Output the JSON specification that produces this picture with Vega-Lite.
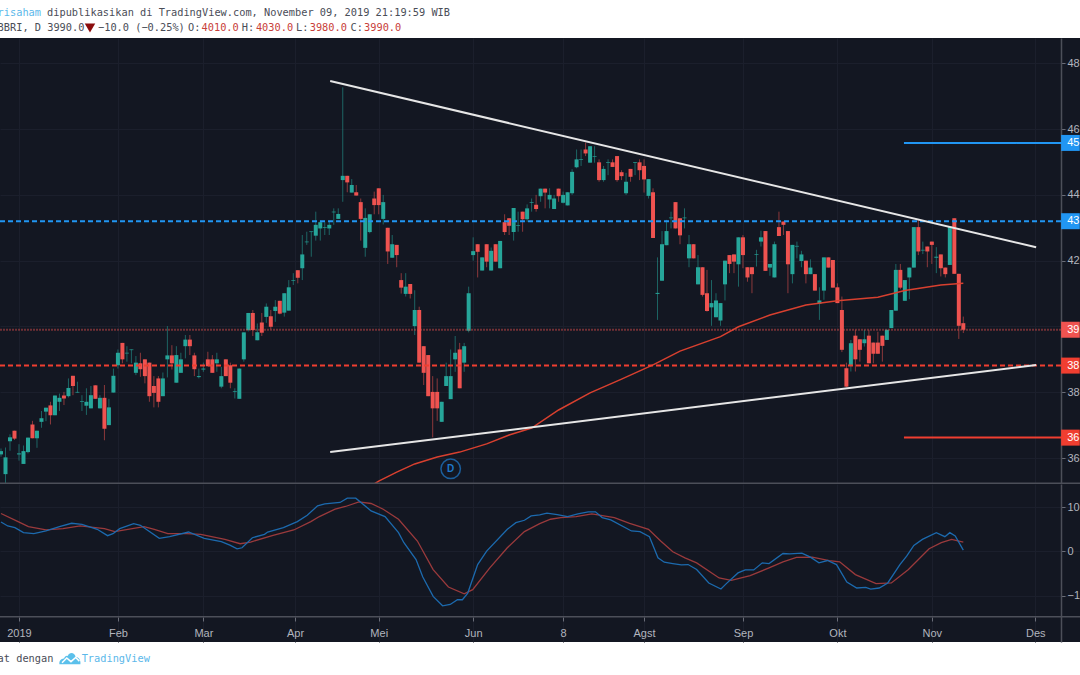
{"$schema":"https://vega.github.io/schema/vega-lite/v6.json","background":"#ffffff","padding":{"left":-2,"top":0,"right":0,"bottom":0},"spacing":0,"bounds":"flush",
"config":{"view":{"stroke":null},"concat":{"spacing":0},"font":"Liberation Sans"},
"datasets":{
"candles":[
{"i":0,"o":3611,"h":3629,"l":3604,"c":3621},{"i":1,"o":3551,"h":3632,"l":3523,"c":3602},{"i":2,"o":3651,"h":3672,"l":3622,"c":3663},{"i":3,"o":3683,"h":3683,"l":3655,"c":3659},{"i":4,"o":3611,"h":3642,"l":3592,"c":3614},{"i":5,"o":3582,"h":3638,"l":3582,"c":3621},{"i":6,"o":3618,"h":3662,"l":3614,"c":3662},{"i":7,"o":3702,"h":3713,"l":3660,"c":3660},{"i":8,"o":3660,"h":3683,"l":3631,"c":3683},{"i":9,"o":3710,"h":3743,"l":3692,"c":3721},
{"i":10,"o":3741,"h":3753,"l":3712,"c":3753},{"i":11,"o":3760,"h":3771,"l":3702,"c":3730},{"i":12,"o":3730,"h":3790,"l":3730,"c":3790},{"i":13,"o":3771,"h":3796,"l":3743,"c":3783},{"i":14,"o":3790,"h":3801,"l":3761,"c":3781},{"i":15,"o":3788,"h":3842,"l":3784,"c":3813},{"i":16,"o":3850,"h":3850,"l":3791,"c":3819},{"i":17,"o":3799,"h":3832,"l":3799,"c":3801},{"i":18,"o":3771,"h":3791,"l":3743,"c":3773},{"i":19,"o":3759,"h":3812,"l":3731,"c":3771},
{"i":20,"o":3751,"h":3819,"l":3751,"c":3791},{"i":21,"o":3821,"h":3821,"l":3780,"c":3780},{"i":22,"o":3751,"h":3791,"l":3751,"c":3783},{"i":23,"o":3783,"h":3822,"l":3654,"c":3689},{"i":24,"o":3700,"h":3780,"l":3700,"c":3754},{"i":25,"o":3799,"h":3872,"l":3799,"c":3850},{"i":26,"o":3882,"h":3930,"l":3872,"c":3920},{"i":27,"o":3950,"h":3950,"l":3888,"c":3900},{"i":28,"o":3918,"h":3940,"l":3893,"c":3920},{"i":29,"o":3928,"h":3930,"l":3888,"c":3930},
{"i":30,"o":3859,"h":3910,"l":3852,"c":3890},{"i":31,"o":3888,"h":3920,"l":3847,"c":3870},{"i":32,"o":3900,"h":3900,"l":3827,"c":3849},{"i":33,"o":3890,"h":3890,"l":3771,"c":3788},{"i":34,"o":3819,"h":3849,"l":3754,"c":3798},{"i":35,"o":3842,"h":3849,"l":3754,"c":3771},{"i":36,"o":3788,"h":3860,"l":3788,"c":3842},{"i":37,"o":3900,"h":4001,"l":3845,"c":3912},{"i":38,"o":3912,"h":3943,"l":3869,"c":3888},{"i":39,"o":3829,"h":3940,"l":3829,"c":3913},
{"i":40,"o":3859,"h":3920,"l":3859,"c":3900},{"i":41,"o":3940,"h":3974,"l":3903,"c":3960},{"i":42,"o":3960,"h":3974,"l":3913,"c":3940},{"i":43,"o":3912,"h":3920,"l":3849,"c":3870},{"i":44,"o":3846,"h":3872,"l":3842,"c":3849},{"i":45,"o":3869,"h":3890,"l":3862,"c":3872},{"i":46,"o":3900,"h":3923,"l":3879,"c":3879},{"i":47,"o":3900,"h":3913,"l":3859,"c":3859},{"i":48,"o":3888,"h":3920,"l":3862,"c":3900},{"i":49,"o":3817,"h":3877,"l":3812,"c":3849},
{"i":50,"o":3900,"h":3900,"l":3849,"c":3849},{"i":51,"o":3882,"h":3890,"l":3812,"c":3829},{"i":52,"o":3801,"h":3812,"l":3781,"c":3803},{"i":53,"o":3780,"h":3872,"l":3780,"c":3872},{"i":54,"o":3900,"h":3982,"l":3893,"c":3982},{"i":55,"o":3989,"h":4041,"l":3985,"c":4041},{"i":56,"o":4041,"h":4050,"l":3971,"c":3989},{"i":57,"o":3958,"h":4009,"l":3958,"c":3982},{"i":58,"o":4012,"h":4041,"l":3971,"c":3981},{"i":59,"o":4029,"h":4070,"l":4011,"c":4060},
{"i":60,"o":4031,"h":4050,"l":3991,"c":3999},{"i":61,"o":4047,"h":4080,"l":4014,"c":4060},{"i":62,"o":4078,"h":4078,"l":4037,"c":4039},{"i":63,"o":4042,"h":4101,"l":4030,"c":4101},{"i":64,"o":4048,"h":4141,"l":4048,"c":4119},{"i":65,"o":4139,"h":4162,"l":4126,"c":4141},{"i":66,"o":4171,"h":4171,"l":4131,"c":4148},{"i":67,"o":4177,"h":4278,"l":4141,"c":4219},{"i":68,"o":4256,"h":4288,"l":4248,"c":4258},{"i":69,"o":4287,"h":4289,"l":4212,"c":4289},
{"i":70,"o":4276,"h":4349,"l":4261,"c":4309},{"i":71,"o":4298,"h":4322,"l":4261,"c":4317},{"i":72,"o":4300,"h":4317,"l":4278,"c":4302},{"i":73,"o":4298,"h":4319,"l":4278,"c":4309},{"i":74,"o":4347,"h":4359,"l":4309,"c":4349},{"i":75,"o":4327,"h":4359,"l":4327,"c":4342},{"i":76,"o":4445,"h":4727,"l":4379,"c":4458},{"i":77,"o":4458,"h":4458,"l":4408,"c":4438},{"i":78,"o":4407,"h":4448,"l":4407,"c":4430},{"i":79,"o":4408,"h":4430,"l":4398,"c":4398},
{"i":80,"o":4378,"h":4389,"l":4261,"c":4327},{"i":81,"o":4239,"h":4359,"l":4212,"c":4330},{"i":82,"o":4287,"h":4341,"l":4283,"c":4341},{"i":83,"o":4389,"h":4410,"l":4341,"c":4369},{"i":84,"o":4420,"h":4420,"l":4341,"c":4369},{"i":85,"o":4327,"h":4400,"l":4310,"c":4378},{"i":86,"o":4300,"h":4300,"l":4190,"c":4228},{"i":87,"o":4209,"h":4278,"l":4209,"c":4250},{"i":88,"o":4248,"h":4248,"l":4180,"c":4217},{"i":89,"o":4141,"h":4162,"l":4100,"c":4118},
{"i":90,"o":4099,"h":4162,"l":4091,"c":4121},{"i":91,"o":4129,"h":4129,"l":4085,"c":4099},{"i":92,"o":4001,"h":4110,"l":3974,"c":4050},{"i":93,"o":4050,"h":4060,"l":3890,"c":3890},{"i":94,"o":3940,"h":3940,"l":3822,"c":3859},{"i":95,"o":3913,"h":3913,"l":3788,"c":3788},{"i":96,"o":3801,"h":3849,"l":3663,"c":3751},{"i":97,"o":3801,"h":3842,"l":3713,"c":3751},{"i":98,"o":3710,"h":3771,"l":3710,"c":3771},{"i":99,"o":3819,"h":3890,"l":3819,"c":3849},
{"i":100,"o":3779,"h":3930,"l":3779,"c":3849},{"i":101,"o":3900,"h":3971,"l":3862,"c":3920},{"i":102,"o":3930,"h":3950,"l":3812,"c":3812},{"i":103,"o":3890,"h":3950,"l":3862,"c":3940},{"i":104,"o":3987,"h":4121,"l":3982,"c":4101},{"i":105,"o":4217,"h":4271,"l":4200,"c":4229},{"i":106,"o":4250,"h":4250,"l":4149,"c":4227},{"i":107,"o":4170,"h":4210,"l":4170,"c":4210},{"i":108,"o":4250,"h":4250,"l":4180,"c":4197},{"i":109,"o":4170,"h":4240,"l":4170,"c":4230},
{"i":110,"o":4250,"h":4250,"l":4197,"c":4197},{"i":111,"o":4177,"h":4260,"l":4177,"c":4260},{"i":112,"o":4317,"h":4341,"l":4278,"c":4287},{"i":113,"o":4329,"h":4329,"l":4278,"c":4306},{"i":114,"o":4287,"h":4360,"l":4261,"c":4360},{"i":115,"o":4306,"h":4349,"l":4288,"c":4308},{"i":116,"o":4349,"h":4349,"l":4288,"c":4326},{"i":117,"o":4326,"h":4371,"l":4318,"c":4359},{"i":118,"o":4376,"h":4389,"l":4349,"c":4378},{"i":119,"o":4370,"h":4400,"l":4349,"c":4357},
{"i":120,"o":4396,"h":4419,"l":4379,"c":4419},{"i":121,"o":4419,"h":4419,"l":4359,"c":4407},{"i":122,"o":4386,"h":4420,"l":4359,"c":4400},{"i":123,"o":4357,"h":4400,"l":4357,"c":4389},{"i":124,"o":4419,"h":4419,"l":4379,"c":4396},{"i":125,"o":4376,"h":4410,"l":4374,"c":4400},{"i":126,"o":4368,"h":4408,"l":4368,"c":4408},{"i":127,"o":4405,"h":4478,"l":4400,"c":4470},{"i":128,"o":4484,"h":4538,"l":4481,"c":4508},{"i":129,"o":4506,"h":4538,"l":4488,"c":4508},
{"i":130,"o":4538,"h":4559,"l":4518,"c":4526},{"i":131,"o":4498,"h":4548,"l":4498,"c":4548},{"i":132,"o":4516,"h":4548,"l":4498,"c":4518},{"i":133,"o":4499,"h":4508,"l":4440,"c":4445},{"i":134,"o":4445,"h":4488,"l":4440,"c":4479},{"i":135,"o":4498,"h":4508,"l":4460,"c":4500},{"i":136,"o":4499,"h":4508,"l":4485,"c":4485},{"i":137,"o":4518,"h":4518,"l":4440,"c":4445},{"i":138,"o":4469,"h":4475,"l":4445,"c":4457},{"i":139,"o":4405,"h":4467,"l":4400,"c":4440},
{"i":140,"o":4479,"h":4479,"l":4440,"c":4455},{"i":141,"o":4498,"h":4500,"l":4460,"c":4500},{"i":142,"o":4499,"h":4508,"l":4445,"c":4475},{"i":143,"o":4488,"h":4508,"l":4407,"c":4447},{"i":144,"o":4397,"h":4448,"l":4389,"c":4448},{"i":145,"o":4408,"h":4420,"l":4269,"c":4269},{"i":146,"o":4099,"h":4210,"l":4020,"c":4102},{"i":147,"o":4139,"h":4290,"l":4139,"c":4250},{"i":148,"o":4247,"h":4324,"l":4247,"c":4290},{"i":149,"o":4329,"h":4349,"l":4298,"c":4331},
{"i":150,"o":4378,"h":4378,"l":4298,"c":4298},{"i":151,"o":4329,"h":4329,"l":4250,"c":4277},{"i":152,"o":4329,"h":4359,"l":4298,"c":4331},{"i":153,"o":4207,"h":4278,"l":4180,"c":4250},{"i":154,"o":4250,"h":4250,"l":4207,"c":4207},{"i":155,"o":4128,"h":4217,"l":4128,"c":4180},{"i":156,"o":4180,"h":4180,"l":4091,"c":4096},{"i":157,"o":4101,"h":4172,"l":4045,"c":4047},{"i":158,"o":4058,"h":4141,"l":4002,"c":4071},{"i":159,"o":4028,"h":4101,"l":4028,"c":4079},
{"i":160,"o":4018,"h":4071,"l":4002,"c":4071},{"i":161,"o":4128,"h":4200,"l":4079,"c":4200},{"i":162,"o":4217,"h":4217,"l":4162,"c":4190},{"i":163,"o":4219,"h":4219,"l":4162,"c":4197},{"i":164,"o":4189,"h":4271,"l":4121,"c":4271},{"i":165,"o":4271,"h":4278,"l":4177,"c":4217},{"i":166,"o":4180,"h":4180,"l":4136,"c":4149},{"i":167,"o":4180,"h":4180,"l":4101,"c":4159},{"i":168,"o":4218,"h":4233,"l":4182,"c":4220},{"i":169,"o":4258,"h":4291,"l":4243,"c":4271},
{"i":170,"o":4290,"h":4290,"l":4169,"c":4169},{"i":171,"o":4179,"h":4190,"l":4154,"c":4190},{"i":172,"o":4149,"h":4258,"l":4149,"c":4250},{"i":173,"o":4302,"h":4349,"l":4275,"c":4275},{"i":174,"o":4319,"h":4319,"l":4278,"c":4309},{"i":175,"o":4290,"h":4290,"l":4101,"c":4189},{"i":176,"o":4159,"h":4248,"l":4131,"c":4248},{"i":177,"o":4243,"h":4258,"l":4207,"c":4245},{"i":178,"o":4199,"h":4230,"l":4180,"c":4219},{"i":179,"o":4200,"h":4200,"l":4131,"c":4159},
{"i":180,"o":4159,"h":4204,"l":4159,"c":4179},{"i":181,"o":4159,"h":4159,"l":4109,"c":4109},{"i":182,"o":4069,"h":4119,"l":4020,"c":4079},{"i":183,"o":4109,"h":4210,"l":4081,"c":4210},{"i":184,"o":4210,"h":4210,"l":4179,"c":4179},{"i":185,"o":4202,"h":4202,"l":4118,"c":4118},{"i":186,"o":4119,"h":4131,"l":4071,"c":4071},{"i":187,"o":4050,"h":4091,"l":3922,"c":3929},{"i":188,"o":3873,"h":3890,"l":3815,"c":3817},{"i":189,"o":3883,"h":3959,"l":3863,"c":3949},
{"i":190,"o":3972,"h":3990,"l":3863,"c":3900},{"i":191,"o":3961,"h":3961,"l":3893,"c":3929},{"i":192,"o":3949,"h":3990,"l":3939,"c":3961},{"i":193,"o":3972,"h":3990,"l":3888,"c":3888},{"i":194,"o":3951,"h":3951,"l":3888,"c":3917},{"i":195,"o":3951,"h":3984,"l":3917,"c":3917},{"i":196,"o":3972,"h":3972,"l":3893,"c":3941},{"i":197,"o":3959,"h":3990,"l":3959,"c":3990},{"i":198,"o":3995,"h":4050,"l":3995,"c":4050},{"i":199,"o":4048,"h":4190,"l":4048,"c":4172},
{"i":200,"o":4172,"h":4190,"l":4113,"c":4118},{"i":201,"o":4078,"h":4141,"l":4078,"c":4141},{"i":202,"o":4149,"h":4179,"l":4083,"c":4179},{"i":203,"o":4179,"h":4302,"l":4179,"c":4302},{"i":204,"o":4302,"h":4324,"l":4217,"c":4228},{"i":205,"o":4231,"h":4258,"l":4220,"c":4233},{"i":206,"o":4243,"h":4243,"l":4180,"c":4228},{"i":207,"o":4258,"h":4258,"l":4190,"c":4248},{"i":208,"o":4209,"h":4241,"l":4162,"c":4212},{"i":209,"o":4219,"h":4219,"l":4152,"c":4177},
{"i":210,"o":4179,"h":4179,"l":4149,"c":4159},{"i":211,"o":4187,"h":4304,"l":4187,"c":4304},{"i":212,"o":4329,"h":4329,"l":4160,"c":4160},{"i":213,"o":4160,"h":4160,"l":3962,"c":4002},{"i":214,"o":4010,"h":4030,"l":3980,"c":3990}],
"ma":[{"i":83,"p":3521},{"i":84,"p":3530},{"i":88,"p":3557},{"i":92,"p":3582},{"i":97,"p":3603},{"i":102,"p":3618},{"i":108,"p":3643},{"i":113,"p":3670},{"i":118,"p":3691},{"i":124,"p":3746},{"i":131,"p":3798},{"i":138,"p":3840},{"i":145,"p":3883},{"i":151,"p":3925},{"i":160,"p":3969},{"i":164,"p":3999},{"i":171,"p":4035},{"i":179,"p":4065},{"i":186,"p":4078},{"i":195,"p":4089},{"i":201,"p":4109},{"i":209,"p":4126},{"i":214,"p":4131}],
"trend":[{"n":"upper","i":73.2,"p":4746},{"n":"upper","i":230.2,"p":4241},{"n":"lower","i":73.2,"p":3618},{"n":"lower","i":230.2,"p":3883}],
"levels":[{"p":4558,"label":"45","side":"res","kind":"solid","from":200.8,"to":239.9,"tagFrom":235.75,"labelAt":237.1},{"p":4320,"label":"43","side":"res","kind":"dashed","from":-0.222,"to":239.9,"tagFrom":235.75,"labelAt":237.1},{"p":3990,"label":"39","side":"last","kind":"last","from":-0.222,"to":239.9,"tagFrom":235.75,"labelAt":237.1},{"p":3881,"label":"38","side":"sup","kind":"dashed","from":-0.222,"to":239.9,"tagFrom":235.75,"labelAt":237.1},{"p":3662,"label":"36","side":"sup","kind":"solid","from":200.8,"to":239.9,"tagFrom":235.75,"labelAt":237.1}],
"oscBlue":[{"i":0,"v":66.6},{"i":1.5,"v":57.6},{"i":3.1,"v":53.8},{"i":5,"v":42.4},{"i":7.3,"v":40.1},{"i":10,"v":46.2},{"i":13,"v":56},{"i":15.7,"v":63.6},{"i":18,"v":61.3},{"i":21.4,"v":50},{"i":23.7,"v":35.6},{"i":24.9,"v":40.1},{"i":26.4,"v":51.5},{"i":29.5,"v":62.9},{"i":31,"v":59.1},{"i":35.2,"v":29.5},{"i":37.5,"v":33.3},{"i":41.7,"v":43.9},{"i":45.2,"v":29.5},{"i":49,"v":22},{"i":50.9,"v":14.4},{"i":52.5,"v":6},{"i":53.6,"v":8.3},{"i":55.9,"v":31},{"i":58.6,"v":38.6},{"i":59.3,"v":43.9},{"i":62.8,"v":53.8},{"i":65.9,"v":67.4},{"i":68.1,"v":81.8},{"i":70.4,"v":103},{"i":72,"v":107.6},{"i":75.4,"v":110.6},{"i":77,"v":120.4},{"i":78.9,"v":120.4},{"i":82.3,"v":91.6},{"i":85.4,"v":78.8},{"i":88.4,"v":42.4},{"i":89.6,"v":19.7},{"i":92.3,"v":-18.2},{"i":93.8,"v":-57.6},{"i":96.1,"v":-101.5},{"i":98.2,"v":-122.7},{"i":99.9,"v":-119.7},{"i":101.5,"v":-109.1},{"i":102.6,"v":-109.1},{"i":103.8,"v":-94},{"i":106,"v":-29.6},{"i":108,"v":0.7},{"i":112.6,"v":50},{"i":114.5,"v":65.1},{"i":116.4,"v":70.4},{"i":117.9,"v":80.3},{"i":119.8,"v":82.6},{"i":121.4,"v":86.4},{"i":123.7,"v":83.3},{"i":126,"v":78.8},{"i":128.3,"v":84.8},{"i":130.6,"v":89.4},{"i":132.2,"v":89.4},{"i":133.7,"v":76.5},{"i":135.6,"v":71.2},{"i":140.2,"v":46.2},{"i":142.1,"v":44.7},{"i":144.2,"v":33.3},{"i":145.2,"v":8.3},{"i":146.1,"v":-14.4},{"i":147.5,"v":-24.3},{"i":149.4,"v":-27.3},{"i":151.3,"v":-30.3},{"i":152.8,"v":-29.6},{"i":154.7,"v":-40.9},{"i":157.4,"v":-71.2},{"i":160.1,"v":-84.9},{"i":161.3,"v":-72.7},{"i":163.9,"v":-48.5},{"i":165.5,"v":-41.7},{"i":167.4,"v":-41.7},{"i":169.3,"v":-25.8},{"i":170.8,"v":-27.3},{"i":173.9,"v":-4.6},{"i":175.4,"v":-5.3},{"i":178.1,"v":-3.8},{"i":180,"v":-12.9},{"i":181.9,"v":-25.8},{"i":183.8,"v":-20.5},{"i":185.8,"v":-29.6},{"i":188.1,"v":-69},{"i":190.3,"v":-82.6},{"i":192.3,"v":-81.1},{"i":193.4,"v":-84.9},{"i":195.3,"v":-82.6},{"i":197.2,"v":-71.2},{"i":199.9,"v":-29.6},{"i":201.4,"v":-10.6},{"i":203,"v":13.6},{"i":204.9,"v":27.3},{"i":208,"v":42.4},{"i":209.9,"v":33.3},{"i":211,"v":42.4},{"i":212.2,"v":34.8},{"i":214,"v":3}],
"oscRed":[{"i":0,"v":85.6},{"i":3.8,"v":67.4},{"i":6.1,"v":56},{"i":10,"v":48.5},{"i":13.8,"v":51.5},{"i":17.6,"v":57.6},{"i":23,"v":51.5},{"i":25.3,"v":44.7},{"i":31.8,"v":56},{"i":34.1,"v":50},{"i":37.1,"v":40.1},{"i":41.3,"v":40.1},{"i":44.4,"v":38.6},{"i":49.8,"v":27.3},{"i":53.2,"v":17.4},{"i":55.5,"v":21.2},{"i":60.5,"v":36.3},{"i":65.1,"v":48.5},{"i":68.9,"v":67.4},{"i":70.8,"v":78.8},{"i":74.3,"v":95.4},{"i":76.6,"v":101.5},{"i":79.6,"v":112.1},{"i":82.3,"v":108.3},{"i":85,"v":95.4},{"i":88.4,"v":72.7},{"i":92.6,"v":23.5},{"i":96.1,"v":-40.9},{"i":99.5,"v":-80.3},{"i":103,"v":-95.5},{"i":104.9,"v":-86.4},{"i":108.7,"v":-37.1},{"i":112.6,"v":8.3},{"i":116.4,"v":44.7},{"i":119.8,"v":62.9},{"i":122.2,"v":72.7},{"i":124.5,"v":76.5},{"i":127.9,"v":78.8},{"i":131.4,"v":84.8},{"i":136.4,"v":76.5},{"i":139.8,"v":63.6},{"i":144,"v":50},{"i":146.7,"v":23.5},{"i":149.4,"v":-0.8},{"i":152.1,"v":-14.4},{"i":154.7,"v":-25.8},{"i":159.7,"v":-59.9},{"i":162.4,"v":-65.2},{"i":166.6,"v":-54.6},{"i":170.8,"v":-37.1},{"i":173.9,"v":-23.5},{"i":176.9,"v":-13.6},{"i":180.4,"v":-12.9},{"i":184.2,"v":-20.5},{"i":186.5,"v":-23.5},{"i":190,"v":-52.3},{"i":194.6,"v":-72.7},{"i":198,"v":-71.2},{"i":201.8,"v":-40.9},{"i":206.4,"v":6.1},{"i":209.1,"v":19.7},{"i":211.4,"v":27.3},{"i":214,"v":21.2}],
"header":[{"line":1,"col":0,"text":"risaham","tone":"link"},{"line":1,"col":8,"text":"dipublikasikan di TradingView.com, November 09, 2019 21:19:59 WIB","tone":"plain"},{"line":2,"col":0,"text":"BBRI, D 3990.0","tone":"plain"},{"line":2,"col":16.25,"text":"−10.0 (−0.25%)","tone":"plain"},{"line":2,"col":30.8,"text":"O:","tone":"plain"},{"line":2,"col":33,"text":"4010.0","tone":"down"},{"line":2,"col":39.5,"text":"H:","tone":"plain"},{"line":2,"col":41.8,"text":"4030.0","tone":"down"},{"line":2,"col":48.3,"text":"L:","tone":"plain"},{"line":2,"col":50.5,"text":"3980.0","tone":"down"},{"line":2,"col":57.1,"text":"C:","tone":"plain"},{"line":2,"col":59.3,"text":"3990.0","tone":"down"}],
"footer":[{"col":0,"text":"at dengan","tone":"plain"},{"col":13.6,"text":"TradingView","tone":"link"}]
},
"vconcat":[
{"width":1080,"height":38,"layer":[
{"data":{"name":"header"},"mark":{"type":"text","align":"left","baseline":"middle","font":"DejaVu Sans Mono","fontSize":10.3,"clip":true},
"encoding":{"x":{"field":"col","type":"quantitative","axis":null,"scale":{"domain":[0.388,175.15],"nice":false,"zero":false}},"y":{"field":"line","type":"quantitative","axis":null,"scale":{"domain":[0.133,2.667],"reverse":true,"nice":false,"zero":false}},"text":{"field":"text"},"color":{"field":"tone","type":"nominal","legend":null,"scale":{"domain":["plain","link","down"],"range":["#4a4d57","#5bb8ea","#c8403a"]}}}},
{"data":{"values":[{"line":2,"col":14.95}]},"mark":{"type":"point","shape":"triangle-down","filled":true,"size":110,"color":"#8b0d0d","opacity":1},
"encoding":{"x":{"field":"col","type":"quantitative"},"y":{"field":"line","type":"quantitative"}}}
]},
{"width":1080,"height":446,"view":{"fill":"#131722","stroke":null},"encoding":{"x":{"field":"i","type":"quantitative","scale":{"domain":[-0.222,239.95],"nice":false,"zero":false,"padding":0},"axis":{"title":null,"values":[4,26,45,65.4,84,105,125,143,165,186,207,230],"labels":false,"ticks":false,"domain":false,"grid":true,"gridColor":"#1b1f2c"}}},
"layer":[
{"data":{"name":"candles"},"mark":{"type":"rule","strokeWidth":1,"opacity":0.55,"clip":true},"encoding":{"y":{"field":"l","type":"quantitative","scale":{"domain":[3521,4877],"nice":false,"zero":false,"padding":0},"axis":{"title":null,"orient":"right","offset":-19,"values":[3600,3700,3800,3900,4000,4100,4200,4300,4400,4500,4600,4700,4800],"labelExpr":"datum.value==4000?'':slice(datum.label,0,2)","format":"d","labelColor":"#b2b5be","labelFontSize":11,"tickColor":"#6a6d78","tickSize":4,"labelPadding":2,"domainColor":"#4c4f59","domainWidth":1.5,"gridColor":"#1b1f2c"}},"y2":{"field":"h"},"color":{"condition":{"test":"datum.c>=datum.o","value":"#26a69a"},"value":"#ef5350"}}},
{"data":{"name":"candles"},"mark":{"type":"bar","orient":"vertical","width":4,"clip":true},"encoding":{"y":{"field":"o","type":"quantitative"},"y2":{"field":"c"},"color":{"condition":{"test":"datum.c>=datum.o","value":"#26a69a"},"value":"#ef5350"}}},
{"data":{"name":"ma"},"mark":{"type":"line","strokeWidth":1.5,"color":"#d8402f"},"encoding":{"y":{"field":"p","type":"quantitative"}}},
{"data":{"name":"levels"},"mark":{"type":"rule","strokeWidth":2,"clip":true},"encoding":{"x":{"field":"from","type":"quantitative"},"x2":{"field":"to"},"y":{"field":"p","type":"quantitative"},"color":{"field":"side","type":"nominal","legend":null,"scale":{"domain":["res","sup","last"],"range":["#2196f3","#f03e30","#ef5350"]}},"opacity":{"condition":{"test":"datum.side==='last'","value":0.42},"value":1},"strokeDash":{"field":"kind","type":"nominal","legend":null,"scale":{"domain":["dashed","solid","last"],"range":[[5,3],[1,0],[2,1]]}}}},
{"data":{"name":"trend"},"mark":{"type":"line","strokeWidth":2,"color":"#e6e6e6"},"encoding":{"y":{"field":"p","type":"quantitative"},"detail":{"field":"n"}}},
{"data":{"name":"levels"},"mark":{"type":"bar","orient":"horizontal","height":16,"clip":true},"encoding":{"x":{"field":"tagFrom","type":"quantitative"},"x2":{"field":"to"},"y":{"field":"p","type":"quantitative"},"color":{"field":"side","type":"nominal","legend":null,"scale":{"domain":["res","sup","last"],"range":["#2196f3","#f03e30","#ef5350"]}}}},
{"data":{"name":"levels"},"mark":{"type":"text","align":"left","baseline":"middle","fontSize":11,"color":"#ffffff"},"encoding":{"x":{"field":"labelAt","type":"quantitative"},"y":{"field":"p","type":"quantitative"},"text":{"field":"label"}}},
{"data":{"values":[{"i":100,"p":3567,"text":"D"}]},"mark":{"type":"point","filled":false,"size":380,"strokeWidth":1.5,"color":"#1c5e9b","opacity":1},"encoding":{"y":{"field":"p","type":"quantitative"}}},
{"data":{"values":[{"i":100,"p":3567,"text":"D"}]},"mark":{"type":"text","fontSize":10,"fontWeight":"bold","color":"#1e78c8","baseline":"middle"},"encoding":{"y":{"field":"p","type":"quantitative"},"text":{"field":"text"}}},
{"data":{"values":[{"p":3523}]},"mark":{"type":"rule","strokeWidth":1.5,"color":"#4c4f59","clip":true},"encoding":{"x":null,"y":{"field":"p","type":"quantitative"}}}
]},
{"width":1080,"height":158,"view":{"fill":"#131722","stroke":null},"encoding":{"x":{"field":"i","type":"quantitative","scale":{"domain":[-0.222,239.95],"nice":false,"zero":false,"padding":0},"axis":{"title":null,"offset":-25,"values":[4,26,45,65.4,84,105,125,143,165,186,207,230],"labelExpr":"{'4':'2019','26':'Feb','45':'Mar','65.4':'Apr','84':'Mei','105':'Jun','125':'8','143':'Agst','165':'Sep','186':'Okt','207':'Nov','230':'Des'}[datum.value]","labelColor":"#b2b5be","labelFontSize":11,"labelFontWeight":"normal","tickColor":"#6a6d78","tickSize":4,"labelPadding":6,"domain":false,"grid":true,"gridColor":"#1b1f2c","labelFlush":false}},"y":{"field":"v","type":"quantitative","scale":{"domain":[-204.5,152.3],"nice":false,"zero":false,"padding":0},"axis":{"title":null,"orient":"right","offset":-19,"values":[-100,0,100],"labelExpr":"slice(datum.label,0,2)","format":"d","labelColor":"#b2b5be","labelFontSize":11,"tickColor":"#6a6d78","tickSize":4,"labelPadding":2,"domainColor":"#4c4f59","domainWidth":1.5,"gridColor":"#1b1f2c"}}},
"layer":[
{"data":{"name":"oscRed"},"mark":{"type":"line","strokeWidth":1.3,"color":"#9a3a3c"}},
{"data":{"name":"oscBlue"},"mark":{"type":"line","strokeWidth":1.3,"color":"#1c6aae"}},
{"data":{"values":[{"v":-147.7}]},"mark":{"type":"rule","strokeWidth":1.5,"color":"#4c4f59","clip":true},"encoding":{"x":null,"y":{"field":"v","type":"quantitative"}}}
]},
{"width":1080,"height":33,"layer":[
{"data":{"name":"footer"},"mark":{"type":"text","align":"left","baseline":"middle","font":"DejaVu Sans Mono","fontSize":10.3,"clip":true},"encoding":{"x":{"field":"col","type":"quantitative","axis":null,"scale":{"domain":[0.388,175.15],"nice":false,"zero":false}},"y":{"datum":0.5,"scale":{"domain":[0,1],"nice":false,"zero":false},"axis":null},"text":{"field":"text"},"color":{"field":"tone","type":"nominal","legend":null,"scale":{"domain":["plain","link"],"range":["#4a4d57","#5bb8ea"]}}}},
{"data":{"values":[{"col":11.7}]},"mark":{"type":"point","shape":"M-1 .55 C-1.05 .2 -.8 0 -.55 0 C-.5 -.2 -.35 -.3 -.2 -.25 C-.05 -.65 .45 -.6 .55 -.15 C.85 -.15 1.05 .15 1 .55 Z","filled":true,"size":441,"color":"#5bc0eb","opacity":1},"encoding":{"x":{"field":"col","type":"quantitative"},"y":{"datum":0.5}}},
{"data":{"values":[{"col":11.7}]},"mark":{"type":"point","shape":"M-.75 .4 L-.3 -.05 L.1 .3 L.55 -.1 L.9 .25","filled":false,"size":441,"strokeWidth":1.5,"color":"#ffffff","opacity":1},"encoding":{"x":{"field":"col","type":"quantitative"},"y":{"datum":0.5}}}
]}
],
"resolve":{"scale":{"x":"independent","y":"independent","color":"independent"}}
}
